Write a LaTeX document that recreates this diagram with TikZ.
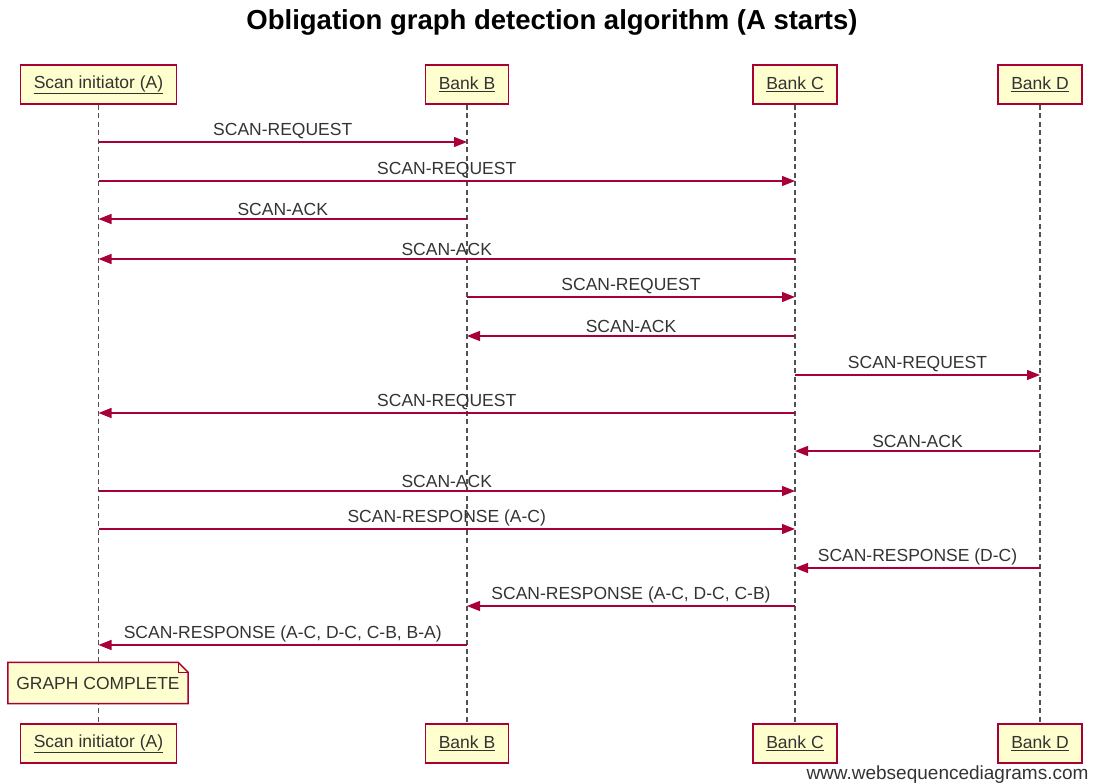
\documentclass[tikz,border=0pt]{standalone}
\usepackage{fontspec}
\setmainfont{Liberation Sans}
\usepackage{tikz}
\usetikzlibrary{arrows.meta}
\usetikzlibrary{positioning}
\definecolor{wsdred}{HTML}{A80036}
\definecolor{wsdfill}{HTML}{FEFECE}
\definecolor{wsdtext}{HTML}{333333}
\tikzset{>=latex}
\tikzstyle{actor} = [rectangle, draw=wsdred, fill=wsdfill, line width=1.5pt, minimum height=39pt, inner xsep=13.5pt, font=\fontsize{17.5}{20}\selectfont, text=wsdtext]
\tikzstyle{life} = [dash pattern=on 5pt off 3.5pt, draw=wsdtext!85, line width=1.4pt]
\tikzstyle{msg} = [-{Triangle[length=13pt,width=10pt]}, draw=wsdred, line width=1.4pt]
\tikzstyle{lbl} = [above, inner sep=2.5pt, font=\fontsize{17.5}{20}\selectfont, text=wsdtext]
\tikzstyle{note} = [rectangle, fill=wsdfill, minimum width=180pt, minimum height=41pt, font=\fontsize{17.5}{20}\selectfont, text=wsdtext]

\begin{document}
\begin{tikzpicture}[x=1pt, y=-1pt]
\useasboundingbox (0,0) rectangle (1096,784);
\node [font=\bfseries\fontsize{27.5}{32}\selectfont] (title) at (552,22) {Obligation graph detection algorithm (A starts)};
\node [actor] (At) at (98.5,84.5) {\underline{Scan initiator (A)}};
\node [actor] (Bt) at (467,84.5) {\underline{Bank B}};
\node [actor] (Ct) at (795,84.5) {\underline{Bank C}};
\node [actor] (Dt) at (1040,84.5) {\underline{Bank D}};
\node [actor] (Ab) at (98.5,743.5) {\underline{Scan initiator (A)}};
\node [actor] (Bb) at (467,743.5) {\underline{Bank B}};
\node [actor] (Cb) at (795,743.5) {\underline{Bank C}};
\node [actor] (Db) at (1040,743.5) {\underline{Bank D}};
\draw [life] (At) to (Ab);
\draw [life] (Bt) to (Bb);
\draw [life] (Ct) to (Cb);
\draw [life] (Dt) to (Db);
\draw [msg] (At |- 0,142) to node [lbl] {SCAN-REQUEST} (Bt |- 0,142);
\draw [msg] (At |- 0,181) to node [lbl] {SCAN-REQUEST} (Ct |- 0,181);
\draw [msg] (Bt |- 0,219) to node [lbl] {SCAN-ACK} (At |- 0,219);
\draw [msg] (Ct |- 0,259) to node [lbl] {SCAN-ACK} (At |- 0,259);
\draw [msg] (Bt |- 0,297) to node [lbl] {SCAN-REQUEST} (Ct |- 0,297);
\draw [msg] (Ct |- 0,336) to node [lbl] {SCAN-ACK} (Bt |- 0,336);
\draw [msg] (Ct |- 0,375) to node [lbl] {SCAN-REQUEST} (Dt |- 0,375);
\draw [msg] (Ct |- 0,413) to node [lbl] {SCAN-REQUEST} (At |- 0,413);
\draw [msg] (Dt |- 0,451) to node [lbl] {SCAN-ACK} (Ct |- 0,451);
\draw [msg] (At |- 0,491) to node [lbl] {SCAN-ACK} (Ct |- 0,491);
\draw [msg] (At |- 0,529) to node [lbl] {SCAN-RESPONSE (A-C)} (Ct |- 0,529);
\draw [msg] (Dt |- 0,568) to node [lbl] {SCAN-RESPONSE (D-C)} (Ct |- 0,568);
\draw [msg] (Ct |- 0,606) to node [lbl] {SCAN-RESPONSE (A-C, D-C, C-B)} (Bt |- 0,606);
\draw [msg] (Bt |- 0,645) to node [lbl] {SCAN-RESPONSE (A-C, D-C, C-B, B-A)} (At |- 0,645);
\node [note] (gc) at (98,683) {GRAPH COMPLETE};
\fill [white] ([xshift=-10pt]gc.north east) -- (gc.north east) -- ([yshift=-10pt]gc.north east) -- cycle;
\draw [draw=wsdred, line width=1.5pt] (gc.south west) -- (gc.north west) -- ([xshift=-10pt]gc.north east) -- ([yshift=-10pt]gc.north east) -- (gc.south east) -- cycle;
\draw [draw=wsdred, line width=0.8pt] ([xshift=-10pt]gc.north east) -- ([xshift=-10pt,yshift=-10pt]gc.north east) -- ([yshift=-10pt]gc.north east);
\node [anchor=east, font=\fontsize{19}{22}\selectfont, text=wsdtext] (web) at (1092,775) {www.websequencediagrams.com};
\end{tikzpicture}
\end{document}
